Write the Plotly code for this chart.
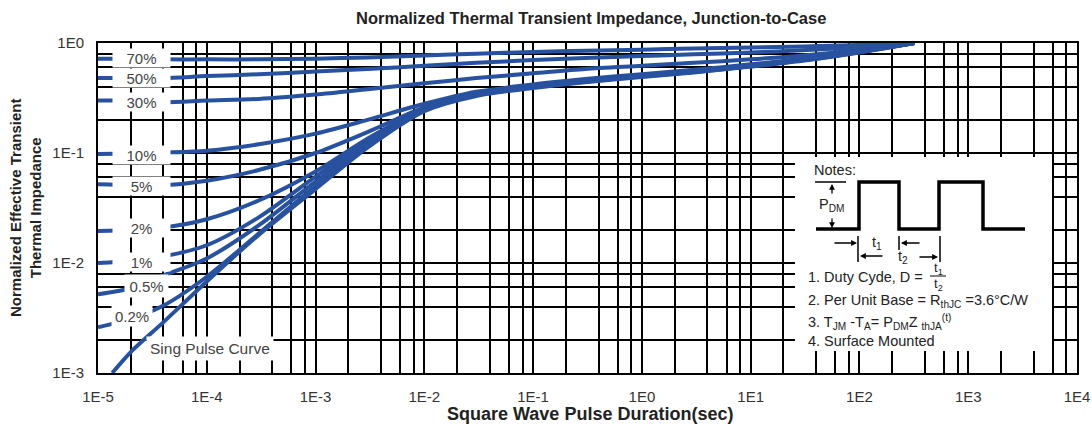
import plotly.graph_objects as go

# ---------------- data ----------------
t_common = [1e-5, 2e-5, 4e-5, 1e-4, 3e-4, 1e-3, 3e-3, 1e-2, 3e-2, 1e-1, 3e-1, 1, 3, 10, 30, 100, 320]
t_single = [1.35e-5, 2e-5, 4e-5, 1e-4, 3e-4, 1e-3, 3e-3, 1e-2, 3e-2, 1e-1, 3e-1, 1, 3, 10, 30, 100, 320]

z_70 = [0.72, 0.72, 0.71, 0.71, 0.71, 0.72, 0.74, 0.77, 0.80, 0.83, 0.85, 0.87, 0.89, 0.91, 0.93, 0.96, 1.0]
z_50 = [0.48, 0.48, 0.48, 0.50, 0.52, 0.55, 0.58, 0.62, 0.66, 0.70, 0.73, 0.76, 0.79, 0.82, 0.86, 0.92, 1.0]
z_30 = [0.30, 0.30, 0.29, 0.30, 0.31, 0.34, 0.38, 0.43, 0.48, 0.53, 0.58, 0.62, 0.66, 0.71, 0.77, 0.87, 1.0]
z_10 = [0.098, 0.099, 0.101, 0.105, 0.12, 0.15, 0.20, 0.28, 0.36, 0.42, 0.47, 0.52, 0.57, 0.64, 0.72, 0.85, 1.0]
z_5 = [0.052, 0.051, 0.051, 0.056, 0.07, 0.10, 0.155, 0.26, 0.35, 0.41, 0.46, 0.51, 0.56, 0.63, 0.71, 0.84, 1.0]
z_2 = [0.0195, 0.020, 0.021, 0.025, 0.037, 0.068, 0.135, 0.255, 0.345, 0.405, 0.455, 0.505, 0.555, 0.625, 0.705, 0.835, 1.0]
z_1 = [0.0100, 0.0105, 0.0115, 0.0145, 0.026, 0.061, 0.128, 0.252, 0.342, 0.402, 0.452, 0.502, 0.552, 0.622, 0.702, 0.832, 1.0]
z_05 = [0.0052, 0.0059, 0.0077, 0.011, 0.022, 0.055, 0.122, 0.25, 0.34, 0.40, 0.45, 0.50, 0.55, 0.62, 0.70, 0.83, 1.0]
z_02 = [0.0026, 0.0031, 0.0041, 0.0075, 0.0185, 0.050, 0.117, 0.245, 0.335, 0.395, 0.445, 0.495, 0.545, 0.615, 0.695, 0.825, 1.0]
z_single = [0.001, 0.00155, 0.0029, 0.0068, 0.018, 0.047, 0.112, 0.24, 0.33, 0.39, 0.44, 0.49, 0.54, 0.61, 0.69, 0.82, 1.0]

duty_labels = ["70%", "50%", "30%", "10%", "5%", "2%", "1%", "0.5%", "0.2%"]
x_tick_labels = ["1E-5", "1E-4", "1E-3", "1E-2", "1E-1", "1E0", "1E1", "1E2", "1E3", "1E4"]
y_tick_labels = ["1E-3", "1E-2", "1E-1", "1E0"]

# ---------------- figure ----------------
W, H = 1092, 432
L, R, T, B = 98, 1077, 43, 373   # plot area in pixels
BLUE = "#28529f"
FONT = "Liberation Sans, Arial, sans-serif"


def px(x):
    return (x - L) / (R - L)


def py(y):
    return (B - y) / (B - T)


fig = go.Figure()
series = [z_70, z_50, z_30, z_10, z_5, z_2, z_1, z_05, z_02]
for name, z in zip(duty_labels, series):
    fig.add_trace(go.Scatter(x=t_common, y=z, mode="lines", name=name,
                             line=dict(color=BLUE, width=4, shape="spline", smoothing=0.8),
                             showlegend=False, hoverinfo="skip"))
fig.add_trace(go.Scatter(x=t_single, y=z_single, mode="lines", name="Single",
                         line=dict(color=BLUE, width=4, shape="spline", smoothing=0.8),
                         showlegend=False, hoverinfo="skip"))

x_major = [10.0 ** k for k in range(-5, 5)]
x_minor = [m * 10.0 ** k for k in range(-5, 4) for m in (2, 4, 6, 8)]
y_major = [10.0 ** k for k in range(-3, 1)]
y_minor = [m * 10.0 ** k for k in range(-3, 0) for m in (2, 4, 6, 8)]

GW = 1.6
axis_common = dict(
    type="log", showgrid=True, gridcolor="black", gridwidth=GW, automargin=False,
    showline=True, mirror=True, linecolor="black", linewidth=2,
    ticks="", zeroline=False, ticklabelstandoff=9, ticklabeloverflow="allow",
    tickfont=dict(family=FONT, size=15, color="#333"),
)
fig.update_xaxes(range=[-5, 4], tickmode="array", tickvals=x_major, ticktext=x_tick_labels,
                 minor=dict(tickmode="array", tickvals=x_minor, showgrid=True,
                            gridcolor="black", gridwidth=GW, ticks=""),
                 **axis_common)
fig.update_yaxes(range=[-3, 0], tickmode="array", tickvals=y_major, ticktext=y_tick_labels,
                 minor=dict(tickmode="array", tickvals=y_minor, showgrid=True,
                            gridcolor="black", gridwidth=GW, ticks=""),
                 **axis_common)

shapes = []
# notes box (white, hides the grid; no curves pass there)
shapes.append(dict(type="rect", xref="paper", yref="paper",
                   x0=px(795), x1=px(1052), y0=py(351), y1=py(157),
                   fillcolor="white", line=dict(width=0), layer="above"))
# square wave
wave = [(816, 229), (859, 229), (859, 182), (899, 182), (899, 229), (939, 229),
        (939, 182), (983, 182), (983, 229), (1025, 229)]
path = "M " + " L ".join(f"{px(a):.5f},{py(b):.5f}" for a, b in wave)
shapes.append(dict(type="path", xref="paper", yref="paper", path=path,
                   line=dict(color="black", width=3.5), layer="above"))
# P_DM level bar
shapes.append(dict(type="line", xref="paper", yref="paper", x0=px(815), x1=px(846),
                   y0=py(182), y1=py(182), line=dict(color="black", width=1.5), layer="above"))
# t1 / t2 markers
for xx, y0, y1 in [(858, 236, 262), (899, 236, 250), (940, 236, 262)]:
    shapes.append(dict(type="line", xref="paper", yref="paper", x0=px(xx), x1=px(xx),
                       y0=py(y1), y1=py(y0), line=dict(color="black", width=1.5), layer="above"))
# fraction bar
shapes.append(dict(type="line", xref="paper", yref="paper", x0=px(930), x1=px(946),
                   y0=py(276), y1=py(276), line=dict(color="black", width=1), layer="above"))

ann = []
# duty labels
label_pos = [(141, 58, 57, 18), (141, 78, 57, 18), (141, 102, 57, 18), (141, 155, 57, 18),
             (141, 186, 57, 18), (141, 228, 57, 18), (141, 262, 57, 18), (146, 286, 43, 22),
             (132, 316, 40, 20)]
for text, (cx, cy, w, h) in zip(duty_labels, label_pos):
    ann.append(dict(xref="paper", yref="paper", x=px(cx), y=py(cy), text=text,
                    showarrow=False, width=w, height=h, bgcolor="white", borderpad=0,
                    font=dict(family=FONT, size=15, color="#444"),
                    xanchor="center", yanchor="middle"))
ann.append(dict(xref="paper", yref="paper", x=px(210), y=py(348), text="Sing Pulse Curve",
                showarrow=False, bgcolor="white", borderpad=3,
                font=dict(family=FONT, size=15.5, color="#444"),
                xanchor="center", yanchor="middle"))

# titles
ann.append(dict(xref="paper", yref="paper", x=px(591), y=py(18),
                text="<b>Normalized Thermal Transient Impedance, Junction-to-Case</b>",
                showarrow=False, font=dict(family=FONT, size=16.5, color="#222"),
                xanchor="center", yanchor="middle"))
ann.append(dict(xref="paper", yref="paper", x=px(590), y=py(414),
                text="<b>Square Wave Pulse Duration(sec)</b>",
                showarrow=False, font=dict(family=FONT, size=18, color="#222"),
                xanchor="center", yanchor="middle"))
ann.append(dict(xref="paper", yref="paper", x=px(25), y=py(208),
                text="<b>Normalized Effective Transient<br>Thermal Impedance</b>",
                textangle=-90, showarrow=False, font=dict(family=FONT, size=15, color="#222"),
                xanchor="center", yanchor="middle"))

# notes text
note_font = dict(family=FONT, size=14.5, color="#222")
frac_font = dict(family=FONT, size=13, color="#222")
ann.append(dict(xref="paper", yref="paper", x=px(812), y=py(170), text="Notes:",
                showarrow=False, font=note_font, xanchor="left", yanchor="middle"))
ann.append(dict(xref="paper", yref="paper", x=px(817), y=py(205), text="P<sub>DM</sub>",
                showarrow=False, font=note_font, xanchor="left", yanchor="middle"))
ann.append(dict(xref="paper", yref="paper", x=px(870), y=py(243), text="t<sub>1</sub>",
                showarrow=False, font=note_font, xanchor="left", yanchor="middle"))
ann.append(dict(xref="paper", yref="paper", x=px(896), y=py(257), text="t<sub>2</sub>",
                showarrow=False, font=note_font, xanchor="left", yanchor="middle"))
ann.append(dict(xref="paper", yref="paper", x=px(806), y=py(277), text="1. Duty Cyde, D =",
                showarrow=False, font=note_font, xanchor="left", yanchor="middle"))
ann.append(dict(xref="paper", yref="paper", x=px(938), y=py(268), text="t<sub>1</sub>",
                showarrow=False, font=frac_font, xanchor="center", yanchor="middle"))
ann.append(dict(xref="paper", yref="paper", x=px(938), y=py(284), text="t<sub>2</sub>",
                showarrow=False, font=frac_font, xanchor="center", yanchor="middle"))
ann.append(dict(xref="paper", yref="paper", x=px(806), y=py(301),
                text="2. Per Unit Base = R<sub>thJC</sub> =3.6°C/W",
                showarrow=False, font=note_font, xanchor="left", yanchor="middle"))
ann.append(dict(xref="paper", yref="paper", x=px(806), y=py(322),
                text="3. T<sub>JM</sub> -T<sub>A</sub>= P<sub>DM</sub>Z <sub>thJA</sub><sup>(t)</sup>",
                showarrow=False, font=note_font, xanchor="left", yanchor="middle"))
ann.append(dict(xref="paper", yref="paper", x=px(806), y=py(341), text="4. Surface Mounted",
                showarrow=False, font=note_font, xanchor="left", yanchor="middle"))

# arrows in notes
arrow_specs = [
    (832, 184, 0, 11),    # up arrow to level bar
    (832, 228, 0, -11),   # down arrow to baseline
    (857, 243, -24, 0),   # -> |t1
    (860, 256, 24, 0),    # |<- under t1
    (901, 243, 20, 0),    # |<- t2 start
    (938, 257, -20, 0),   # -> | t2 end
]
for ax_, ay_, dx, dy in arrow_specs:
    ann.append(dict(xref="paper", yref="paper", x=px(ax_), y=py(ay_), ax=dx, ay=dy,
                    axref="pixel", ayref="pixel", text="", showarrow=True,
                    arrowhead=2, arrowsize=0.9, arrowwidth=1.3, arrowcolor="black"))

fig.update_layout(
    width=W, height=H,
    margin=dict(l=L, r=W - R, t=T, b=H - B, autoexpand=False),
    paper_bgcolor="white", plot_bgcolor="white",
    shapes=shapes, annotations=ann, showlegend=False,
)

fig.write_html("out.html",
               config={"displayModeBar": False},
               post_script="document.body.style.margin='0';"
                           "document.body.style.overflow='hidden';")
